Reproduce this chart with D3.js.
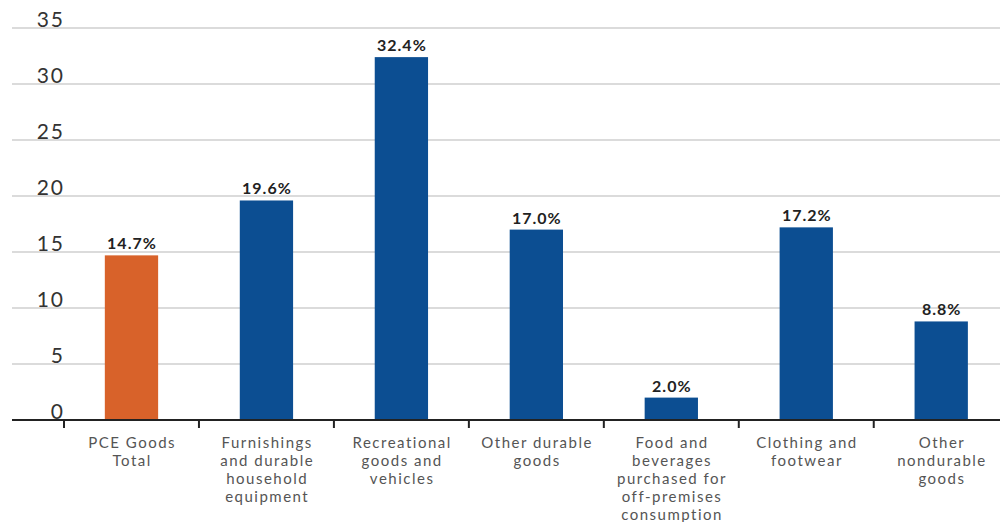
<!DOCTYPE html>
<html>
<head>
<meta charset="utf-8">
<script src="https://cdn.jsdelivr.net/npm/d3@7"></script>
<style>
  html, body { margin: 0; padding: 0; background: #fff; }
  svg { display: block; font-family: Lato, "Open Sans", sans-serif; }
</style>
</head>
<body>
<svg id="chart" width="1000" height="522"></svg>
<script>
// data
var categories = [
  ["PCE Goods", "Total"],
  ["Furnishings", "and durable", "household", "equipment"],
  ["Recreational", "goods and", "vehicles"],
  ["Other durable", "goods"],
  ["Food and", "beverages", "purchased for", "off-premises", "consumption"],
  ["Clothing and", "footwear"],
  ["Other", "nondurable", "goods"]
];
var values = [14.7, 19.6, 32.4, 17.0, 2.0, 17.2, 8.8];
var valueLabels = ["14.7%", "19.6%", "32.4%", "17.0%", "2.0%", "17.2%", "8.8%"];
var yTicks = [0, 5, 10, 15, 20, 25, 30, 35];

var svg = d3.select("#chart");

var grid_left = 12,
    grid_right = 1000,
    base_y = 420,
    top_y = 28;

var x = d3.scaleBand()
    .domain(d3.range(values.length))
    .range([64, 1008.7]);

var y = d3.scaleLinear()
    .domain([0, 35])
    .range([base_y, top_y]);

function bar_width() { return x.step() * 0.395; }

// gridlines
svg.append("g").attr("class", "grid")
  .selectAll("line").data(yTicks.slice(1)).enter().append("line")
    .attr("x1", grid_left).attr("x2", grid_right)
    .attr("y1", function(d) { return y(d); })
    .attr("y2", function(d) { return y(d); })
    .attr("stroke", "#cfcfcf")
    .attr("stroke-width", 1.5);

// y tick labels, sitting on the lines
svg.append("g").attr("class", "ylabels")
  .selectAll("text").data(yTicks).enter().append("text")
    .attr("x", 65)
    .attr("y", function(d) { return y(d) - 1; })
    .attr("text-anchor", "end")
    .style("font-size", "21px")
    .style("letter-spacing", "2px")
    .style("fill", "#333")
    .text(function(d) { return d; });

// bars
svg.append("g").attr("class", "bars")
  .selectAll("rect").data(values).enter().append("rect")
    .attr("x", function(d, i) { return x(i) + (x.step() - bar_width()) / 2; })
    .attr("y", function(d) { return y(d); })
    .attr("width", bar_width())
    .attr("height", function(d) { return y(0) - y(d); })
    .attr("fill", function(d, i) { return i === 0 ? "#D8622A" : "#0C4E92"; });

// value labels
svg.append("g").attr("class", "totals")
  .selectAll("text").data(values).enter().append("text")
    .attr("x", function(d, i) { return x(i) + x.step() / 2 + 0.5; })
    .attr("y", function(d) { return y(d) - 6; })
    .attr("text-anchor", "middle")
    .style("font-size", "16px")
    .style("font-weight", "bold")
    .style("letter-spacing", "1px")
    .style("fill", "#222")
    .text(function(d, i) { return valueLabels[i]; });

// baseline and tick marks
svg.append("line")
  .attr("x1", grid_left).attr("x2", grid_right)
  .attr("y1", base_y).attr("y2", base_y)
  .attr("stroke", "#222")
  .attr("stroke-width", 2);

svg.append("g").attr("class", "ticks")
  .selectAll("line").data(d3.range(values.length)).enter().append("line")
    .attr("x1", function(d) { return x(d); })
    .attr("x2", function(d) { return x(d); })
    .attr("y1", base_y)
    .attr("y2", base_y + 8)
    .attr("stroke", "#222")
    .attr("stroke-width", 2);

// category labels
var cats = svg.append("g").attr("class", "labels")
  .selectAll("text").data(categories).enter().append("text")
    .attr("x", function(d, i) { return x(i) + x.step() / 2 + 0.75; })
    .attr("y", 448)
    .attr("text-anchor", "middle")
    .style("font-size", "15px")
    .style("letter-spacing", "1.5px")
    .style("fill", "#555");

cats.selectAll("tspan").data(function(d) { return d; }).enter().append("tspan")
    .attr("x", function() { return d3.select(this.parentNode).attr("x"); })
    .attr("dy", function(d, i) { return i === 0 ? 0 : 18; })
    .text(function(d) { return d; });
</script>
</body>
</html>
